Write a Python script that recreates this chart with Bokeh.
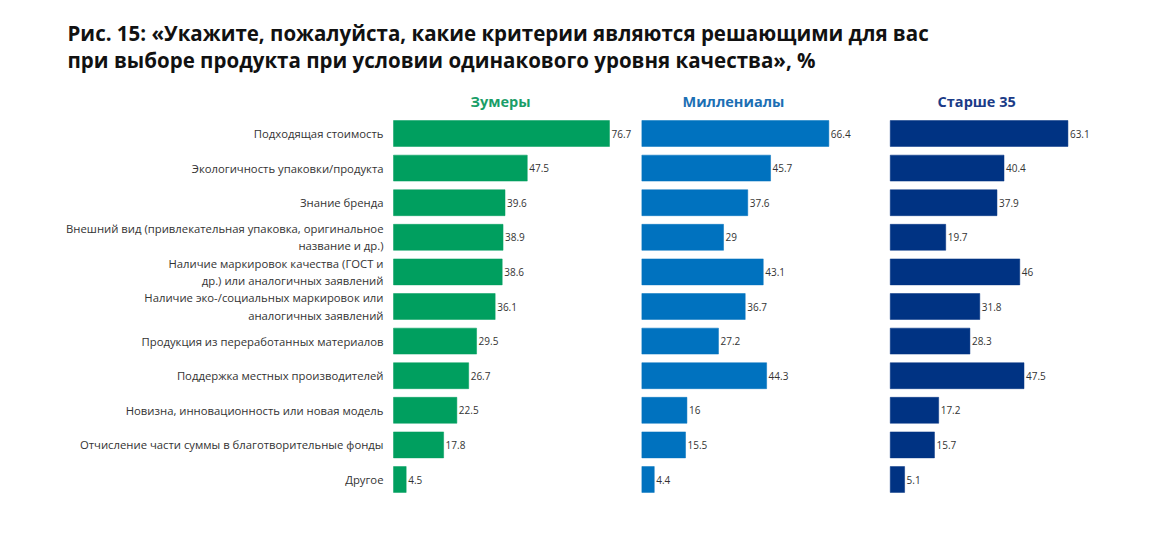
from bokeh.plotting import figure
from bokeh.models import Label, ColumnDataSource
from bokeh.core.properties import value
from bokeh.embed import file_html
from bokeh.resources import INLINE

# ---------------- data ----------------
criteria = [
    "Подходящая стоимость",
    "Экологичность упаковки/продукта",
    "Знание бренда",
    "Внешний вид (привлекательная упаковка, оригинальное\nназвание и др.)",
    "Наличие маркировок качества (ГОСТ и\nдр.) или аналогичных заявлений",
    "Наличие эко-/социальных маркировок или\nаналогичных заявлений",
    "Продукция из переработанных материалов",
    "Поддержка местных производителей",
    "Новизна, инновационность или новая модель",
    "Отчисление части суммы в благотворительные фонды",
    "Другое",
]
groups = ["Зумеры", "Миллениалы", "Старше 35"]
zoomers = [76.7, 47.5, 39.6, 38.9, 38.6, 36.1, 29.5, 26.7, 22.5, 17.8, 4.5]
millennials = [66.4, 45.7, 37.6, 29, 43.1, 36.7, 27.2, 44.3, 16, 15.5, 4.4]
older35 = [63.1, 40.4, 37.9, 19.7, 46, 31.8, 28.3, 47.5, 17.2, 15.7, 5.1]
series = [zoomers, millennials, older35]
title_lines = [
    "Рис. 15: «Укажите, пожалуйста, какие критерии являются решающими для вас",
    "при выборе продукта при условии одинакового уровня качества», %",
]

# ---------------- styles / layout ----------------
bar_colors = ["#009f5f", "#0072bf", "#003383"]
head_colors = ["#1a9e68", "#1c6fb4", "#1b3b87"]
PANEL_STEP = 88.2
head_centers = [38.0, 32.5, 30.7]
FONT = "Open Sans"

W, H = 1148, 526
PX_PER_UNIT = 2.816
ORIGIN_X = 393          # canvas px where first panel's zero sits
ROW_PX = 34.6
ROW0_Y = 133            # canvas px of first row centre (from top)

x_start = -ORIGIN_X / PX_PER_UNIT
x_end = (W - ORIGIN_X) / PX_PER_UNIT
y_end = ROW0_Y / ROW_PX
y_start = -(H - ROW0_Y) / ROW_PX

p = figure(width=W, height=H, x_range=(x_start, x_end), y_range=(y_start, y_end),
           output_backend="svg", toolbar_location=None,
           x_axis_type=None, y_axis_type=None, min_border=0,
           outline_line_color=None)
p.grid.visible = False
p.background_fill_color = "white"
p.border_fill_color = "white"

ys = [-i for i in range(len(criteria))]

for k, (vals, col) in enumerate(zip(series, bar_colors)):
    off = k * PANEL_STEP
    src = ColumnDataSource(dict(
        y=ys,
        left=[off] * len(vals),
        right=[off + v for v in vals],
        lab=[f"{v:g}" for v in vals],
    ))
    p.hbar(y="y", left="left", right="right", height=0.75, source=src,
           fill_color=col, line_color=col, line_width=0.5)
    p.text(x="right", y="y", text="lab", source=src, x_offset=2,
           text_font=value(FONT), text_font_size="10px", text_color="#333333",
           text_align="left", text_baseline="middle")
    p.text(x=[off + head_centers[k]], y=[0.925], text=[groups[k]],
           text_font=value(FONT), text_font_size="14.5px", text_font_style="bold",
           text_color=head_colors[k], text_align="center", text_baseline="middle")

lab_src = ColumnDataSource(dict(x=[0] * len(criteria), y=ys, t=criteria))
p.text(x="x", y="y", text="t", source=lab_src, x_offset=-10,
       text_font=value(FONT), text_font_size="11.3px", text_color="#333333",
       text_align="right", text_baseline="middle", text_line_height=1.15)

for i, line in enumerate(title_lines):
    p.add_layout(Label(x=67, y=H - 32 - 27 * i, x_units="screen", y_units="screen",
                       text=line, text_font="Open Sans", text_font_size="20.5px",
                       text_font_style="bold", text_color="#111111",
                       text_baseline="middle", text_align="left"))

open("out.html", "w").write(file_html(p, INLINE))
